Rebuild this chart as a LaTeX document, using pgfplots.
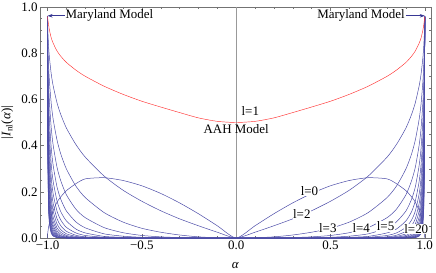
\documentclass[border=0pt]{standalone}
\usepackage{fontspec}
\setmainfont{Liberation Serif}
\usepackage{pgfplots}
\usepackage{pgfplotstable}
\usetikzlibrary{arrows.meta}
\pgfplotsset{compat=1.18}
\definecolor{cblue}{rgb}{0.30,0.30,0.66}
\definecolor{cframe}{gray}{0.45}
\definecolor{carrow}{rgb}{0.22,0.22,0.58}
\definecolor{cred}{rgb}{1,0.2,0.2}

\pgfplotstableread{
a A l0 l2 l3 l4 l5 l6 l7 l8 l9 l10 l11 l12 l13 l14 l15 l16 l17 l18 l19 l20
-1 0.958 0 0.958 0.958 0.958 0.958 0.958 0.958 0.958 0.958 0.958 0.958 0.958 0.958 0.958 0.958 0.958 0.958 0.958 0.958 0.958
-0.999 0.950 0.020 0.909 0.869 0.831 0.795 0.760 0.727 0.695 0.665 0.635 0.608 0.581 0.556 0.531 0.508 0.486 0.465 0.445 0.425 0.407
-0.995 0.925 0.045 0.837 0.757 0.685 0.620 0.561 0.507 0.459 0.415 0.376 0.340 0.307 0.278 0.252 0.228 0.206 0.186 0.169 0.153 0.138
-0.99 0.900 0.065 0.781 0.678 0.588 0.510 0.442 0.384 0.333 0.289 0.251 0.218 0.189 0.164 0.142 0.123 0.107 0.093 0.081 0.070 0.061
-0.98 0.865 0.097 0.707 0.578 0.472 0.386 0.315 0.258 0.211 0.172 0.141 0.115 0.094 0.077 0.063 0.051 0.042 0.034 0.028 0.023 0.019
-0.97 0.843 0.120 0.658 0.513 0.401 0.313 0.244 0.190 0.149 0.116 0.090 0.071 0.055 0.043 0.034 0.026 0.020 0.016 0.012 0.010 0.008
-0.95 0.810 0.155 0.586 0.425 0.307 0.222 0.161 0.117 0.084 0.061 0.044 0.032 0.023 0.017 0.012 0.009 0.006 0.005 0.003 0.002 0.002
-0.93 0.787 0.178 0.535 0.364 0.248 0.168 0.114 0.078 0.053 0.036 0.025 0.017 0.011 0.008 0.005 0.004 0.002 0.002 0.001 0.001 0.001
-0.9 0.760 0.205 0.476 0.299 0.187 0.117 0.074 0.046 0.029 0.018 0.011 0.007 0.004 0.003 0.002 0.001 0.001 0 0 0 0
-0.85 0.727 0.235 0.405 0.225 0.125 0.070 0.039 0.022 0.012 0.007 0.004 0.002 0.001 0.001 0 0 0 0 0 0 0
-0.8 0.700 0.256 0.350 0.175 0.088 0.044 0.022 0.011 0.005 0.003 0.001 0.001 0 0 0 0 0 0 0 0 0
-0.7 0.657 0.261 0.268 0.110 0.045 0.018 0.007 0.003 0.001 0 0 0 0 0 0 0 0 0 0 0 0
-0.6 0.622 0.249 0.207 0.069 0.023 0.008 0.003 0.001 0 0 0 0 0 0 0 0 0 0 0 0 0
-0.5 0.592 0.226 0.159 0.042 0.011 0.003 0.001 0 0 0 0 0 0 0 0 0 0 0 0 0 0
-0.4 0.567 0.193 0.118 0.025 0.005 0.001 0 0 0 0 0 0 0 0 0 0 0 0 0 0 0
-0.3 0.543 0.152 0.083 0.013 0.002 0 0 0 0 0 0 0 0 0 0 0 0 0 0 0 0
-0.2 0.520 0.105 0.053 0.005 0.001 0 0 0 0 0 0 0 0 0 0 0 0 0 0 0 0
-0.1 0.505 0.053 0.025 0.001 0 0 0 0 0 0 0 0 0 0 0 0 0 0 0 0 0
0 0.500 0 0 0 0 0 0 0 0 0 0 0 0 0 0 0 0 0 0 0 0
0.1 0.505 0.053 0.025 0.001 0 0 0 0 0 0 0 0 0 0 0 0 0 0 0 0 0
0.2 0.520 0.105 0.053 0.005 0.001 0 0 0 0 0 0 0 0 0 0 0 0 0 0 0 0
0.3 0.543 0.152 0.083 0.013 0.002 0 0 0 0 0 0 0 0 0 0 0 0 0 0 0 0
0.4 0.567 0.193 0.118 0.025 0.005 0.001 0 0 0 0 0 0 0 0 0 0 0 0 0 0 0
0.5 0.592 0.226 0.159 0.042 0.011 0.003 0.001 0 0 0 0 0 0 0 0 0 0 0 0 0 0
0.6 0.622 0.249 0.207 0.069 0.023 0.008 0.003 0.001 0 0 0 0 0 0 0 0 0 0 0 0 0
0.7 0.657 0.261 0.268 0.110 0.045 0.018 0.007 0.003 0.001 0 0 0 0 0 0 0 0 0 0 0 0
0.8 0.700 0.256 0.350 0.175 0.088 0.044 0.022 0.011 0.005 0.003 0.001 0.001 0 0 0 0 0 0 0 0 0
0.85 0.727 0.235 0.405 0.225 0.125 0.070 0.039 0.022 0.012 0.007 0.004 0.002 0.001 0.001 0 0 0 0 0 0 0
0.9 0.760 0.205 0.476 0.299 0.187 0.117 0.074 0.046 0.029 0.018 0.011 0.007 0.004 0.003 0.002 0.001 0.001 0 0 0 0
0.93 0.787 0.178 0.535 0.364 0.248 0.168 0.114 0.078 0.053 0.036 0.025 0.017 0.011 0.008 0.005 0.004 0.002 0.002 0.001 0.001 0.001
0.95 0.810 0.155 0.586 0.425 0.307 0.222 0.161 0.117 0.084 0.061 0.044 0.032 0.023 0.017 0.012 0.009 0.006 0.005 0.003 0.002 0.002
0.97 0.843 0.120 0.658 0.513 0.401 0.313 0.244 0.190 0.149 0.116 0.090 0.071 0.055 0.043 0.034 0.026 0.020 0.016 0.012 0.010 0.008
0.98 0.865 0.097 0.707 0.578 0.472 0.386 0.315 0.258 0.211 0.172 0.141 0.115 0.094 0.077 0.063 0.051 0.042 0.034 0.028 0.023 0.019
0.99 0.900 0.065 0.781 0.678 0.588 0.510 0.442 0.384 0.333 0.289 0.251 0.218 0.189 0.164 0.142 0.123 0.107 0.093 0.081 0.070 0.061
0.995 0.925 0.045 0.837 0.757 0.685 0.620 0.561 0.507 0.459 0.415 0.376 0.340 0.307 0.278 0.252 0.228 0.206 0.186 0.169 0.153 0.138
0.999 0.950 0.020 0.909 0.869 0.831 0.795 0.760 0.727 0.695 0.665 0.635 0.608 0.581 0.556 0.531 0.508 0.486 0.465 0.445 0.425 0.407
1 0.958 0 0.958 0.958 0.958 0.958 0.958 0.958 0.958 0.958 0.958 0.958 0.958 0.958 0.958 0.958 0.958 0.958 0.958 0.958 0.958
}\datatab

\newcommand{\fs}{\fontsize{13}{14}\selectfont}

\begin{document}
\begin{tikzpicture}
\begin{axis}[
  scale only axis,
  width=391bp, height=231bp,
  xmin=-1.040, xmax=1.033, ymin=0, ymax=1,
  xtick={-1,-0.5,0,0.5,1},
  xticklabels={−1.0,−0.5,0.0,0.5,1.0},
  ytick={0,0.2,0.4,0.6,0.8,1},
  yticklabels={0.0,0.2,0.4,0.6,0.8,1.0},
  minor x tick num=4, minor y tick num=3,
  tick align=inside,
  xtick pos=both, ytick pos=both,
  xticklabel pos=bottom, yticklabel pos=left,
  major tick length=4bp, minor tick length=2bp,
  every tick/.style={cframe, line width=0.4pt},
  axis line style={cframe, line width=0.5pt},
  tick label style={font=\fs, black},
  xticklabel style={yshift=1bp},
  yticklabel style={xshift=1bp},
  xlabel={\textit{α}},
  ylabel={|\textit{I}\textsubscript{nl}(\textit{α})|},
  label style={font=\fs},
  xlabel style={at={(axis description cs:0.5,-0.117)}, anchor=center},
  ylabel style={at={(axis description cs:-0.084,0.5)}, anchor=center},
  clip=true,
]
\draw[gray!80, line width=0.4pt] (axis cs:0,0) -- (axis cs:0,1);
\pgfplotsinvokeforeach{2,...,20}{
  \addplot[cblue, line width=0.5pt, smooth, tension=0.4, no markers] table[x=a, y=l#1] {\datatab};
}
\addplot[cblue, line width=0.5pt, smooth, tension=0.4, no markers] table[x=a, y=l0] {\datatab};
\addplot[cred, line width=0.45pt, smooth, tension=0.4, no markers] table[x=a, y=A] {\datatab};

\draw[carrow, line width=0.6pt, -{Stealth[length=5bp,width=3.5bp]}] (axis cs:-0.91,0.962) -- (axis cs:-1,0.962);
\node[anchor=west, inner sep=1pt, font=\fs] at (axis cs:-0.91,0.962) {Maryland Model};
\draw[carrow, line width=0.6pt, -{Stealth[length=5bp,width=3.5bp]}] (axis cs:0.9,0.962) -- (axis cs:1,0.962);
\node[anchor=east, inner sep=1pt, font=\fs] at (axis cs:0.9,0.962) {Maryland Model};

\node[font=\fs, inner sep=1pt] at (axis cs:0.075,0.55) {l=1};
\node[font=\fs, inner sep=1pt] at (axis cs:0,0.472) {AAH Model};
\node[font=\fs, inner sep=0.5pt, fill=white] at (axis cs:0.389,0.202) {l=0};
\node[font=\fs, inner sep=0.5pt, fill=white] at (axis cs:0.348,0.105) {l=2};
\node[font=\fs, inner sep=0.5pt, fill=white] at (axis cs:0.486,0.043) {l=3};
\node[font=\fs, inner sep=0.5pt, fill=white] at (axis cs:0.663,0.043) {l=4};
\node[font=\fs, inner sep=0.5pt, fill=white] at (axis cs:0.792,0.050) {l=5};
\node[font=\fs, inner sep=0.5pt, fill=white] at (axis cs:0.955,0.039) {l=20};
\end{axis}
\pgfresetboundingbox
\path[use as bounding box] (-40bp,-35bp) rectangle (396bp,238bp);
\end{tikzpicture}
\end{document}
